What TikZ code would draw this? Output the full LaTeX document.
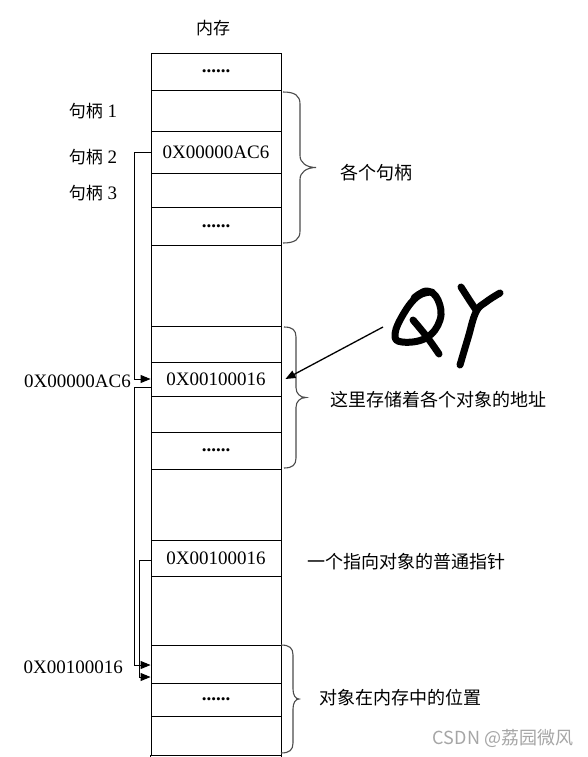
\documentclass[tikz,border=0pt]{standalone}
\usepackage{fontspec}
\setmainfont{Liberation Serif}
\newfontfamily\cjk{Noto Sans CJK SC}
\usetikzlibrary{arrows.meta,calc}
\newcommand\mybrace[6]{%
  \draw[brc] (#1,#2) .. controls ({#1+0.7*#4},#2) and ({#1+#4},{#2+0.3*#6}) .. ({#1+#4},{#2+#6})
    -- ({#1+#4},{(#2+#3)/2-#6})
    .. controls ({#1+#4},{(#2+#3)/2-0.4*#6}) and ({#1+#4+0.4*(#5-#4)},{(#2+#3)/2}) .. ({#1+#5},{(#2+#3)/2})
    .. controls ({#1+#4+0.4*(#5-#4)},{(#2+#3)/2}) and ({#1+#4},{(#2+#3)/2+0.4*#6}) .. ({#1+#4},{(#2+#3)/2+#6})
    -- ({#1+#4},{#3-#6})
    .. controls ({#1+#4},{#3-0.3*#6}) and ({#1+0.7*#4},#3) .. (#1,#3);}
\begin{document}
\begin{tikzpicture}[x=1pt,y=-1pt,
  cell/.style={draw, line width=0.9pt, minimum width=130pt, inner sep=0pt,
    font=\fontsize{19}{19}\selectfont},
  ptr/.style={line width=0.9pt, -{Triangle[length=10pt,width=8pt]}},
  brc/.style={line width=1.1pt, draw=black!70},
  cn/.style={font=\cjk\fontsize{18}{18}\selectfont, inner sep=0pt},
  lbl/.style={font=\fontsize{19}{19}\selectfont, inner sep=0pt},
  qy/.style={line width=7pt, line cap=round, line join=round},
]
\useasboundingbox (0,0) rectangle (587,757);
\fill[white] (0,0) rectangle (587,757);
\foreach \n/\t/\b/\s in {
  0/53/90/{\bfseries......},
  1/90/131/{},
  2/131/173/{0X00000AC6},
  3/173/207/{},
  4/207/245/{\bfseries......},
  5/245/326/{},
  6/326/362/{},
  7/362/396/{0X00100016},
  8/396/432/{},
  9/432/469/{\bfseries......},
  10/469/540/{},
  11/540/576/{0X00100016},
  12/576/645/{},
  13/645/683/{},
  14/683/716/{\bfseries......},
  15/716/755/{}}{
  \pgfmathsetmacro\hh{\b-\t}
  \pgfmathsetmacro\mm{(\t+\b)/2}
  \node[cell, minimum height=\hh pt] (c\n) at (216,\mm) {\s};
}
\draw[line width=0.9pt] (c15.south west) -- ++(0,2) (c15.south east) -- ++(0,2);

% title and left labels
\node[cn, font=\cjk\fontsize{17}{17}\selectfont] (mem) at (213,28) {内存};
\node[lbl] (h1) at (93,111) {{\cjk\fontsize{17}{17}\selectfont 句柄} 1};
\node[lbl] (h2) at (93,157) {{\cjk\fontsize{17}{17}\selectfont 句柄} 2};
\node[lbl] (h3) at (93,193) {{\cjk\fontsize{17}{17}\selectfont 句柄} 3};
\node[lbl, anchor=east] (a1) at (131,381) {0X00000AC6};
\node[lbl, anchor=east] (a2) at (123,667) {0X00100016};

% connectors
\draw[ptr] (c2.west) -- ++(-16,0) |- (c7.west);
\draw[ptr] ([yshift=-8pt]c7.west) -- ++(-16,0) |- ([yshift=-1pt]c13.west);
\draw[ptr] ([yshift=-2pt]c11.west) -- ++(-11,0) |- ([yshift=-13pt]c13.west);

% braces
\mybrace{283}{92}{243}{17}{33}{12}
\mybrace{284}{327}{468}{12}{22}{10}
\mybrace{281}{645}{753}{12}{18}{10}

% right texts
\node[cn] (r1) at (376,173) {各个句柄};
\node[cn] (r2) at (438,400) {这里存储着各个对象的地址};
\node[cn] (r3) at (406,562) {一个指向对象的普通指针};
\node[cn] (r4) at (400,698) {对象在内存中的位置};
\node[cn, text=black!35] (wm) at (503,738) {CSDN @荔园微风};

% handwritten QY and its arrow
\coordinate (qa) at (383,327);
\draw[ptr, line width=1.3pt] (qa) -- ([xshift=4pt]c7.east);
\draw[qy] plot[smooth, tension=0.7] coordinates {(432,292) (418,296) (404,313) (395,334) (402,342) (426,338) (440,320) (438,300) (427,291) (414,298)};
\draw[qy] plot[smooth, tension=0.7] coordinates {(413,320) (427,337) (439,354)};
\draw[qy] plot[smooth, tension=0.7] coordinates {(461,287) (470,301) (476,310)};
\draw[qy] plot[smooth, tension=0.7] coordinates {(500,293) (486,302) (476,312) (468,338) (460,365)};
\end{tikzpicture}
\end{document}
